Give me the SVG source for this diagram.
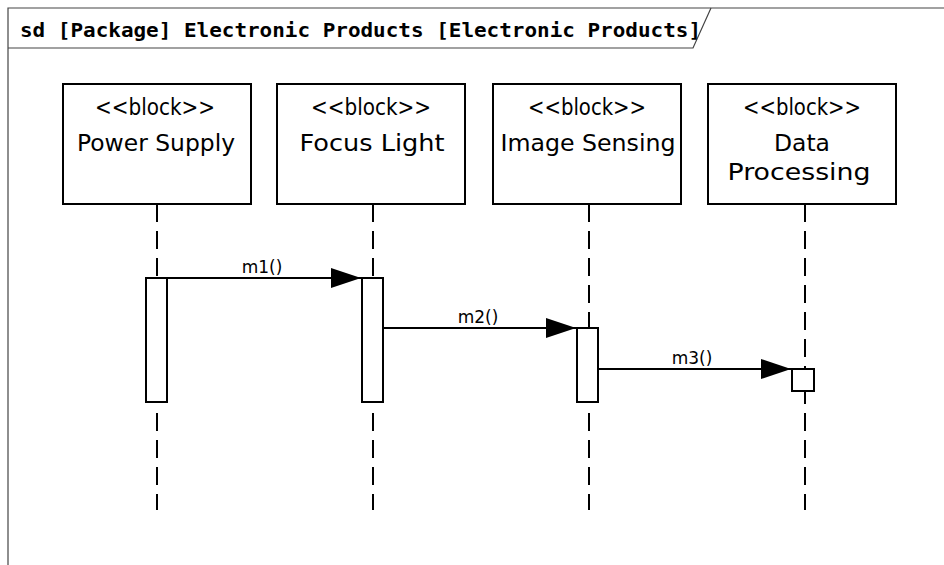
<svg xmlns="http://www.w3.org/2000/svg" width="944" height="565" viewBox="0 0 944 565">
<style>
.frame{fill:none;stroke:#444;stroke-width:1.2}
.box{fill:#fff;stroke:#000;stroke-width:2}
.bar{fill:#fff;stroke:#000;stroke-width:2}
.life{stroke:#000;stroke-width:2;stroke-dasharray:18 9}
.msg{stroke:#000;stroke-width:2;fill:none;marker-end:url(#arr)}
.t{font-family:"DejaVu Sans",sans-serif;font-size:23px;fill:#000;text-anchor:middle}
.title{font-family:"DejaVu Sans Mono",monospace;font-weight:bold;font-size:20px;fill:#000}
.ml{font-family:"DejaVu Sans",sans-serif;font-size:17px;fill:#000;text-anchor:middle}
</style>
<defs>
<marker id="arr" markerWidth="30" markerHeight="20" refX="30" refY="10" orient="auto" markerUnits="userSpaceOnUse">
<path d="M0,0 L30,10 L0,20 Z" fill="#000"/>
</marker>
</defs>
<rect width="944" height="565" fill="#fff"/>
<g id="frame">
<path class="frame" d="M8,565 V8 H944"/>
<path class="frame" d="M8,48 H693 L711,8"/>
<text class="title" x="20" y="37" textLength="681" lengthAdjust="spacingAndGlyphs">sd [Package] Electronic Products [Electronic Products]</text>
</g>
<g id="lifelines">
<line class="life" x1="157" y1="204" x2="157" y2="278"/>
<line class="life" x1="157" y1="404" x2="157" y2="510" stroke-dashoffset="18"/>
<line class="life" x1="373" y1="204" x2="373" y2="278"/>
<line class="life" x1="373" y1="404" x2="373" y2="510" stroke-dashoffset="18"/>
<line class="life" x1="589" y1="204" x2="589" y2="328"/>
<line class="life" x1="589" y1="404" x2="589" y2="510" stroke-dashoffset="18"/>
<line class="life" x1="805" y1="204" x2="805" y2="369"/>
<line class="life" x1="805" y1="392" x2="805" y2="510" stroke-dashoffset="6"/>
</g>
<g id="power-supply">
<rect class="box" x="63" y="84" width="188" height="120"/>
<text class="t" x="155" y="115" textLength="120" lengthAdjust="spacingAndGlyphs">&lt;&lt;block&gt;&gt;</text>
<text class="t" x="156" y="151" textLength="158" lengthAdjust="spacingAndGlyphs">Power Supply</text>
<rect class="bar" x="146" y="278" width="21" height="124"/>
</g>
<g id="focus-light">
<rect class="box" x="277" y="84" width="188" height="120"/>
<text class="t" x="371" y="115" textLength="120" lengthAdjust="spacingAndGlyphs">&lt;&lt;block&gt;&gt;</text>
<text class="t" x="372" y="151" textLength="145" lengthAdjust="spacingAndGlyphs">Focus Light</text>
<rect class="bar" x="362" y="278" width="21" height="124"/>
</g>
<g id="image-sensing">
<rect class="box" x="493" y="84" width="188" height="120"/>
<text class="t" x="587" y="115" textLength="118" lengthAdjust="spacingAndGlyphs">&lt;&lt;block&gt;&gt;</text>
<text class="t" x="588" y="151" textLength="175" lengthAdjust="spacingAndGlyphs">Image Sensing</text>
<rect class="bar" x="577" y="328" width="21" height="74"/>
</g>
<g id="data-processing">
<rect class="box" x="708" y="84" width="188" height="120"/>
<text class="t" x="802" y="115" textLength="118" lengthAdjust="spacingAndGlyphs">&lt;&lt;block&gt;&gt;</text>
<text class="t" x="802" y="151" textLength="56" lengthAdjust="spacingAndGlyphs">Data</text>
<text class="t" x="799" y="180" textLength="143" lengthAdjust="spacingAndGlyphs">Processing</text>
<rect class="bar" x="792" y="369" width="22" height="22"/>
</g>
<g id="connectors">
<line class="msg" x1="167" y1="278" x2="361" y2="278"/>
<text class="ml" x="262" y="273">m1()</text>
<line class="msg" x1="383" y1="328" x2="576" y2="328"/>
<text class="ml" x="478" y="323">m2()</text>
<line class="msg" x1="598" y1="369" x2="791" y2="369"/>
<text class="ml" x="692" y="364">m3()</text>
</g>
</svg>
